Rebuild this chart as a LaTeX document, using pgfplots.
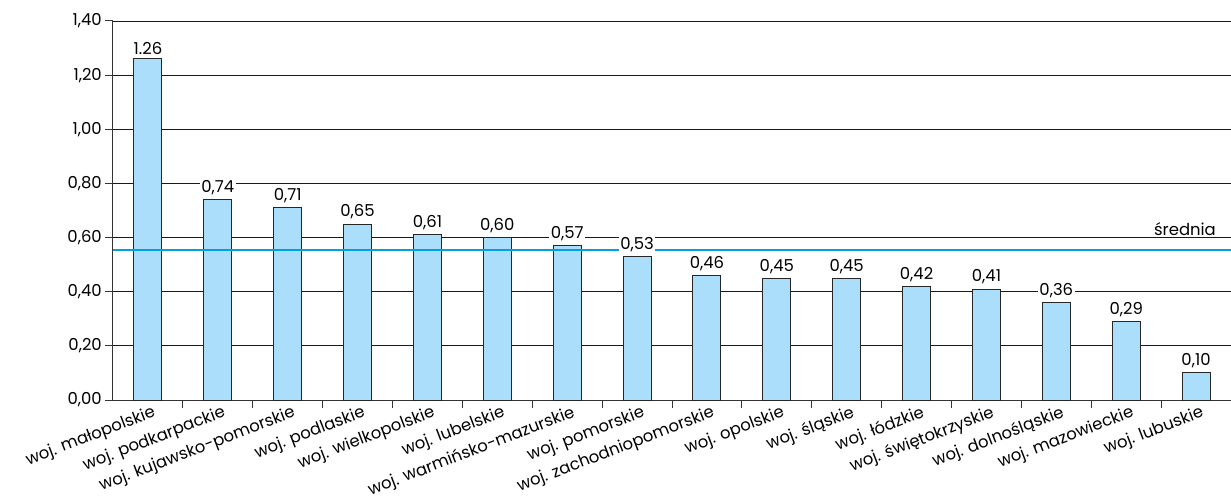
\documentclass[border=0pt]{standalone}
\usepackage{fontspec}
\setmainfont{Poppins}
\usepackage{pgfplots}
\pgfplotsset{compat=1.18}
\usepackage{pgfplotstable}

\definecolor{barfill}{RGB}{170,222,250}
\definecolor{avgline}{RGB}{0,160,227}

% index, value, printed label
\pgfplotstableread{
x  y     label
0  1.26  1.26
1  0.74  0,74
2  0.71  0,71
3  0.65  0,65
4  0.61  0,61
5  0.60  0,60
6  0.57  0,57
7  0.53  0,53
8  0.46  0,46
9  0.45  0,45
10 0.45  0,45
11 0.42  0,42
12 0.41  0,41
13 0.36  0,36
14 0.29  0,29
15 0.10  0,10
}\data

\newcommand{\lblfont}{\fontsize{16.5}{18.5}\selectfont}

\begin{document}
\begin{tikzpicture}
\useasboundingbox (-113bp,-96bp) rectangle (1118bp,400bp);
\begin{axis}[
  at={(0,0)}, anchor=south west,
  scale only axis, width=1118bp, height=379bp,
  xmin=-0.5, xmax=15.5, ymin=0, ymax=1.4,
  axis lines*=left,
  axis line style={line width=1bp, black!80, -},
  ytick={0,0.2,0.4,0.6,0.8,1.0,1.2,1.4},
  ymajorgrids,
  grid style={line width=0.8bp, black!90},
  xtick={0,...,15},
  xticklabels={woj. małopolskie, woj. podkarpackie, woj. kujawsko-pomorskie, woj. podlaskie, woj. wielkopolskie, woj. lubelskie, woj. warmińsko-mazurskie, woj. pomorskie, woj. zachodniopomorskie, woj. opolskie, woj. śląskie, woj. łódzkie, woj. świętokrzyskie, woj. dolnośląskie, woj. mazowieckie, woj. lubuskie},
  minor xtick={0.5,1.5,...,14.5},
  major x tick style={draw=none},
  tick align=outside,
  major tick length=8bp, minor tick length=8bp,
  tick style={line width=1bp, black!80},
  xticklabel style={rotate=21, anchor=north east, inner sep=1bp, font=\lblfont, xshift=6bp, yshift=3bp},
  yticklabel style={font=\lblfont, inner sep=3bp,
    /pgf/number format/.cd, fixed, fixed zerofill, precision=2, use comma, assume math mode=true},
]
\addplot[ybar, bar width=28bp, bar shift=0pt, fill=barfill, draw=black!85, line width=0.9bp]
  table[x=x, y=y] {\data};
\addplot[avgline, line width=2.5bp] coordinates {(-0.5,0.555) (15.5,0.555)};
\addplot[draw=none, mark=none, nodes near coords, point meta=explicit symbolic,
  every node near coord/.style={fill=white, inner sep=1.5bp, font=\lblfont, anchor=south, yshift=3bp}]
  table[x=x, y=y, meta=label] {\data};
\node[anchor=south east, font=\lblfont, inner sep=2bp, xshift=-13bp] at (axis cs:15.5,0.60) {średnia};
\end{axis}
\end{tikzpicture}
\end{document}
